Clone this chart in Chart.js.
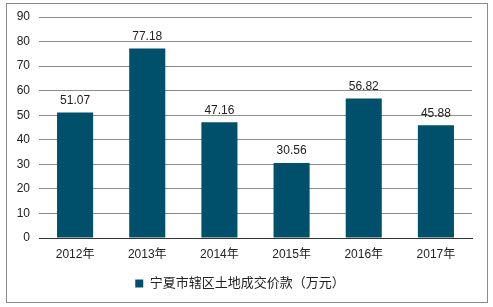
<!DOCTYPE html>
<html>
<head>
<meta charset="utf-8">
<script src="https://cdn.jsdelivr.net/npm/chart.js@4"></script>
<style>
  html, body { margin: 0; padding: 0; background: #fff; }
  #wrap { width: 493px; height: 307px; }
</style>
</head>
<body>
<div id="wrap"><canvas id="chart" width="493" height="307"></canvas></div>
<script>
const years = ['2012年', '2013年', '2014年', '2015年', '2016年', '2017年'];
const landValues = [51.07, 77.18, 47.16, 30.56, 56.82, 45.88];
const seriesName = '宁夏市辖区土地成交价款（万元）';
const yTicks = [0, 10, 20, 30, 40, 50, 60, 70, 80, 90];

const FONT = "'Liberation Sans', Arial, 'Noto Sans CJK SC', sans-serif";

// white background + grey frame
const frame = {
  id: 'frame',
  beforeDraw(chart) {
    const ctx = chart.ctx;
    ctx.save();
    ctx.fillStyle = '#fff';
    ctx.fillRect(0, 0, chart.width, chart.height);
    ctx.strokeStyle = '#8a8a8a';
    ctx.lineWidth = 1;
    ctx.strokeRect(6.5, 3.5, 481, 299);
    ctx.restore();
  }
};

// numbers above bars
const valueLabels = {
  id: 'valueLabels',
  afterDatasetsDraw(chart) {
    const ctx = chart.ctx;
    const meta = chart.getDatasetMeta(0);
    ctx.save();
    ctx.font = '12px ' + FONT;
    ctx.fillStyle = '#222';
    ctx.textAlign = 'center';
    ctx.textBaseline = 'bottom';
    meta.data.forEach((bar, i) => {
      ctx.fillText(landValues[i].toFixed(2), bar.x, bar.y - 6);
    });
    ctx.restore();
  }
};

new Chart(document.getElementById('chart'), {
  type: 'bar',
  data: {
    labels: years,
    datasets: [{
      label: seriesName,
      data: landValues,
      backgroundColor: '#00506b',
      barPercentage: 0.5,
      categoryPercentage: 1.0
    }]
  },
  options: {
    responsive: false,
    animation: false,
    layout: { padding: { left: 8, right: 21, top: 17, bottom: 7 } },
    plugins: {
      legend: {
        position: 'bottom',
        labels: {
          boxWidth: 8,
          boxHeight: 8,
          color: '#222',
          font: { size: 13, family: FONT },
          padding: 8
        }
      },
      tooltip: { enabled: false }
    },
    scales: {
      x: {
        afterFit(scale) { scale.height = 31; },
        grid: { display: false, drawTicks: false },
        border: { color: '#333', width: 1 },
        ticks: { color: '#222', font: { size: 12, family: FONT }, padding: 9 }
      },
      y: {
        min: 0,
        max: 90,
        afterBuildTicks(scale) { scale.ticks = yTicks.map(v => ({ value: v })); },
        afterFit(scale) { scale.width = 31; },
        grid: { color: '#8c8c8c', drawTicks: false },
        border: { display: false },
        ticks: { color: '#222', font: { size: 12, family: FONT }, padding: 9 }
      }
    }
  },
  plugins: [frame, valueLabels]
});
</script>
</body>
</html>
